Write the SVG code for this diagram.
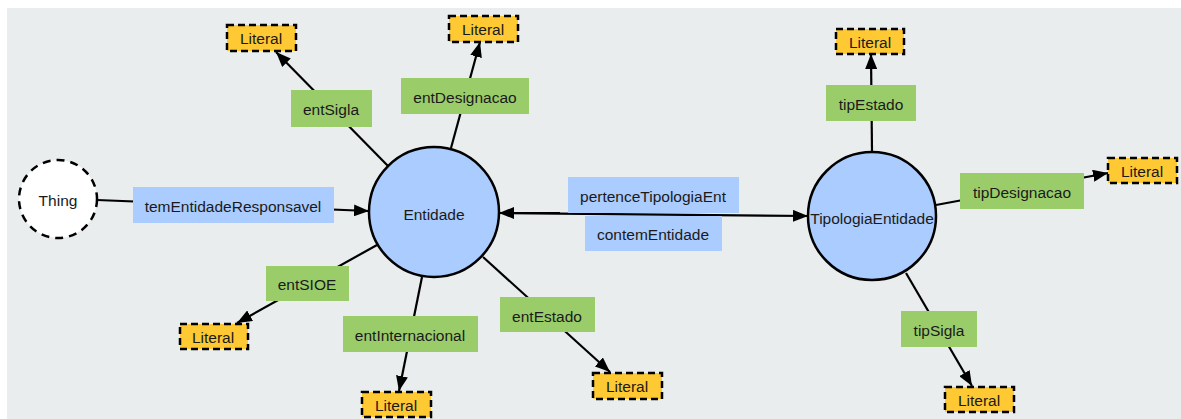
<svg xmlns="http://www.w3.org/2000/svg" width="1181" height="419" viewBox="0 0 1181 419">
<defs>
<marker id="arr" viewBox="0 0 15 12" refX="15" refY="6" markerWidth="15" markerHeight="12" markerUnits="userSpaceOnUse" orient="auto">
<path d="M0,0 L15,6 L0,12 z" fill="#000"/>
</marker>
<style>
text{font-family:"Liberation Sans",Arial,Helvetica,sans-serif;font-size:15.5px;fill:#1a1a1a;text-anchor:middle;dominant-baseline:central}
.cls{fill:#aaccff;stroke:#000;stroke-width:2.5}
.thing{fill:#fff;stroke:#000;stroke-width:2.5;stroke-dasharray:8 6}
.lit{fill:#ffc933;stroke:#000;stroke-width:2.5;stroke-dasharray:7 4}
.edge{stroke:#000;stroke-width:2.2;fill:none}
.arrow{marker-end:url(#arr)}
.lg{fill:#9acd6a}
.lb{fill:#aaccff}
</style>
</defs>
<rect x="7" y="8" width="1174" height="411" fill="#e9edee"/>

<g id="connectors">
<line class="edge arrow" x1="97" y1="200" x2="369" y2="211"/>
<line class="edge arrow" x1="560" y1="213" x2="499" y2="213"/>
<line class="edge arrow" x1="499" y1="213" x2="808" y2="216"/>
<line class="edge arrow" x1="388" y1="166" x2="276" y2="52"/>
<line class="edge arrow" x1="451" y1="148" x2="480" y2="42"/>
<line class="edge arrow" x1="872" y1="152" x2="871" y2="54"/>
<line class="edge arrow" x1="936" y1="205" x2="1108" y2="173"/>
<line class="edge arrow" x1="906" y1="273" x2="972" y2="386"/>
<line class="edge arrow" x1="377" y1="245" x2="237" y2="323"/>
<line class="edge arrow" x1="422" y1="277" x2="399" y2="391"/>
<line class="edge arrow" x1="483" y1="257" x2="610" y2="372"/>
</g>

<g id="edge-labels">
<g id="lbl-temEntidadeResponsavel"><rect class="lb" x="133" y="187" width="201" height="36"/><text x="233" y="206">temEntidadeResponsavel</text></g>
<g id="lbl-pertenceTipologiaEnt"><rect class="lb" x="568" y="177" width="171" height="36"/><text x="653" y="196">pertenceTipologiaEnt</text></g>
<g id="lbl-contemEntidade"><rect class="lb" x="585" y="216" width="137" height="35"/><text x="653" y="234">contemEntidade</text></g>
<g id="lbl-entSigla"><rect class="lg" x="291" y="90" width="81" height="37"/><text x="331" y="109">entSigla</text></g>
<g id="lbl-entDesignacao"><rect class="lg" x="401" y="78" width="128" height="36"/><text x="465" y="97">entDesignacao</text></g>
<g id="lbl-tipEstado"><rect class="lg" x="826" y="85" width="90" height="36"/><text x="871" y="104">tipEstado</text></g>
<g id="lbl-tipDesignacao"><rect class="lg" x="960" y="173" width="124" height="36"/><text x="1022" y="192">tipDesignacao</text></g>
<g id="lbl-tipSigla"><rect class="lg" x="901" y="311" width="76" height="36"/><text x="939" y="330">tipSigla</text></g>
<g id="lbl-entSIOE"><rect class="lg" x="266" y="266" width="83" height="35"/><text x="307" y="284">entSIOE</text></g>
<g id="lbl-entInternacional"><rect class="lg" x="343" y="316" width="135" height="36"/><text x="410" y="335">entInternacional</text></g>
<g id="lbl-entEstado"><rect class="lg" x="500" y="297" width="95" height="35"/><text x="547" y="316">entEstado</text></g>
</g>

<g id="node-thing"><circle class="thing" cx="58" cy="199" r="39"/><text x="58" y="200">Thing</text></g>
<g id="node-entidade"><circle class="cls" cx="434" cy="212" r="65"/><text x="434" y="214">Entidade</text></g>
<g id="node-tipologia"><circle class="cls" cx="872" cy="216" r="64"/><text x="872" y="218">TipologiaEntidade</text></g>

<g id="lit-1"><rect class="lit" x="227" y="25" width="69" height="26"/><text x="261" y="38">Literal</text></g>
<g id="lit-2"><rect class="lit" x="449" y="16" width="69" height="26"/><text x="483" y="29">Literal</text></g>
<g id="lit-3"><rect class="lit" x="836" y="29" width="68" height="25"/><text x="870" y="42">Literal</text></g>
<g id="lit-4"><rect class="lit" x="1108" y="158" width="69" height="25"/><text x="1142" y="171">Literal</text></g>
<g id="lit-5"><rect class="lit" x="945" y="387" width="69" height="25"/><text x="979" y="400">Literal</text></g>
<g id="lit-6"><rect class="lit" x="180" y="324" width="68" height="25"/><text x="213" y="337">Literal</text></g>
<g id="lit-7"><rect class="lit" x="362" y="392" width="69" height="25"/><text x="396" y="405">Literal</text></g>
<g id="lit-8"><rect class="lit" x="593" y="373" width="69" height="26"/><text x="627" y="386">Literal</text></g>
</svg>
